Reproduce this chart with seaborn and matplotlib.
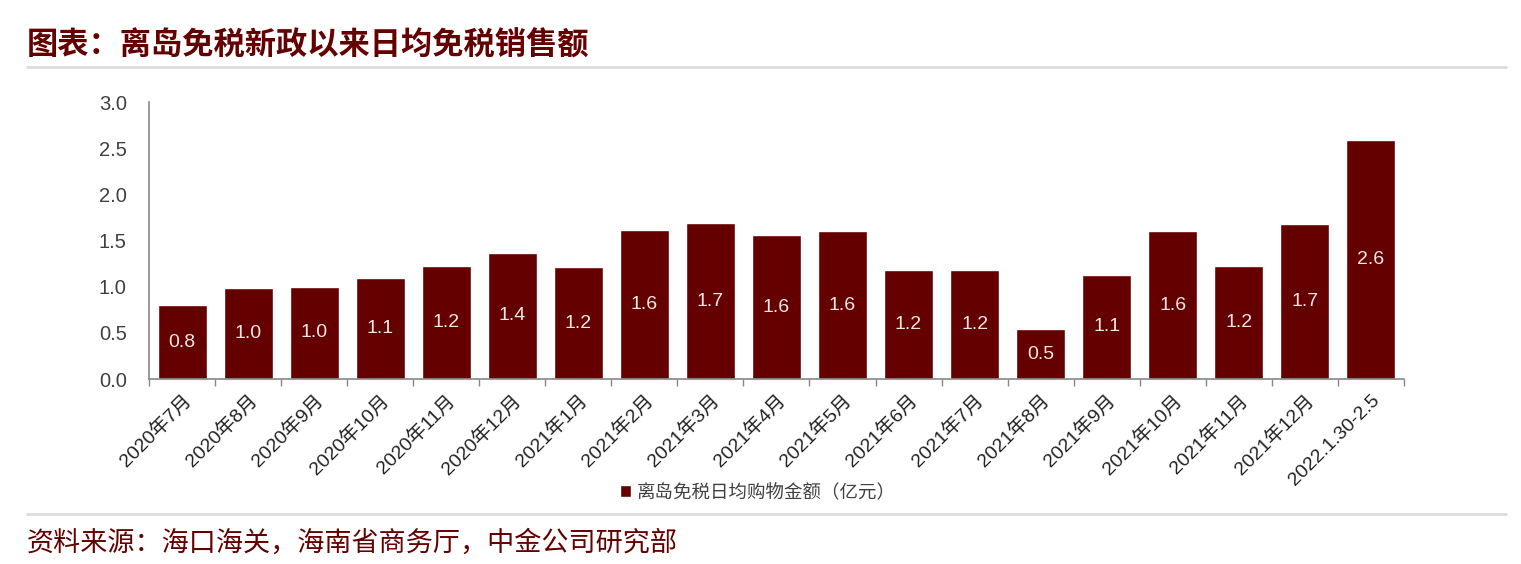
import matplotlib
matplotlib.use('Agg')
import pandas as pd
import seaborn as sns
from matplotlib import pyplot as plt
from matplotlib.ticker import FixedLocator

categories = ['2020年7月', '2020年8月', '2020年9月', '2020年10月', '2020年11月', '2020年12月',
              '2021年1月', '2021年2月', '2021年3月', '2021年4月', '2021年5月', '2021年6月',
              '2021年7月', '2021年8月', '2021年9月', '2021年10月', '2021年11月', '2021年12月',
              '2022.1.30-2.5']
values = [0.80, 0.99, 1.00, 1.09, 1.22, 1.37, 1.21, 1.61, 1.69, 1.56, 1.60, 1.18,
          1.18, 0.54, 1.13, 1.60, 1.22, 1.68, 2.59]
yticks = [0.0, 0.5, 1.0, 1.5, 2.0, 2.5, 3.0]
series_name = '离岛免税日均购物金额（亿元）'
title = '图表：离岛免税新政以来日均免税销售额'
source = '资料来源：海口海关，海南省商务厅，中金公司研究部'

RED = '#640000'
sns.set_theme(style='white')
plt.rcParams['font.family'] = ['Liberation Sans', 'Noto Sans CJK SC', 'DejaVu Sans']

df = pd.DataFrame({'month': categories, 'value': values})

fig = plt.figure(figsize=(15.21, 5.64), dpi=100)
ax = fig.add_axes([0.098, 0.328, 0.825, 0.491])

sns.barplot(data=df, x='month', y='value', color=RED, width=0.74,
            saturation=1, ax=ax)

ax.bar_label(ax.containers[0], fmt='%.1f', label_type='center',
             color='#f3e6e6', fontsize=14)

ax.set_ylim(0, 3.0)
ax.set_yticks(yticks)
ax.set_yticklabels([f'{t:.1f}' for t in yticks], fontsize=14.5, color='#404040')
ax.set_xlim(-0.5, len(categories) - 0.5)
ax.set_xlabel('')
ax.set_ylabel('')
ax.set_xticks(range(len(categories)))
ax.set_xticklabels(categories, rotation=45, ha='right', rotation_mode='anchor',
                   fontsize=14, color='#222222')
ax.xaxis.set_minor_locator(FixedLocator([i - 0.5 for i in range(len(categories) + 1)]))
ax.tick_params(axis='x', which='major', length=0, pad=9)
ax.tick_params(axis='x', which='minor', length=5, width=1, color='#888888',
               direction='out', bottom=True)
ax.tick_params(axis='y', length=0, pad=16)

for side in ['top', 'right']:
    ax.spines[side].set_visible(False)
for side in ['left', 'bottom']:
    ax.spines[side].set_color('#888888')
    ax.spines[side].set_linewidth(1.2)

ax.legend(handles=[ax.patches[0]], labels=[series_name], loc='center',
          bbox_to_anchor=(0.498, 0.126), bbox_transform=fig.transFigure,
          frameon=False, fontsize=13.3, handlelength=0.6, handleheight=0.6,
          handletextpad=0.3, labelcolor='#404040')

fig.text(0.0178, 0.920, title, fontsize=22.5, fontweight='bold', color=RED,
         va='center', ha='left', family=['Noto Sans CJK SC', 'DejaVu Sans'])
fig.text(0.0178, 0.037, source, fontsize=19.5, color=RED,
         va='center', ha='left', family=['Noto Sans CJK SC', 'DejaVu Sans'])

for y in [0.881, 0.0887]:
    fig.add_artist(plt.Line2D([0.0178, 0.99], [y, y], transform=fig.transFigure,
                              color='#dcdcdc', linewidth=2))

fig.savefig('out.png', dpi=100)
